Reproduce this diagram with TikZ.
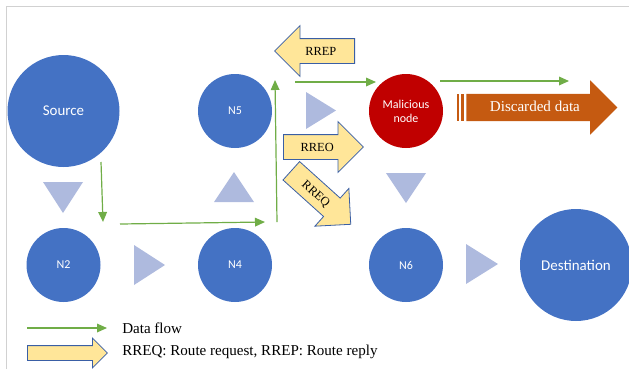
\documentclass[tikz,border=0pt]{standalone}
\usepackage{fontspec}
\setmainfont{Liberation Serif}
\newfontfamily\calibri{Carlito}
\usepackage{tikz}
\usetikzlibrary{positioning,shapes.arrows,arrows.meta}
\definecolor{nodeblue}{RGB}{68,114,196}
\definecolor{hintblue}{RGB}{174,186,222}
\definecolor{malred}{RGB}{192,0,0}
\definecolor{droporange}{RGB}{197,90,17}
\definecolor{msgyellow}{RGB}{255,230,153}
\definecolor{msgedge}{RGB}{58,95,165}
\definecolor{flowgreen}{RGB}{112,173,71}
\begin{document}
\begin{tikzpicture}[x=0.75pt,y=0.75pt]
\tikzstyle{every node}+=[inner sep=0pt]
\tikzstyle{host}=[circle,fill=nodeblue,text=white,minimum size=55.5pt,font=\calibri\fontsize{9}{10.5}\selectfont]
\tikzstyle{bighost}=[host,minimum size=84pt,font=\calibri\fontsize{11.2}{13}\selectfont]
\tikzstyle{hint}=[fill=hintblue]
\tikzstyle{flow}=[draw=flowgreen,line width=0.9pt,-{Triangle[length=7.5pt,width=6.5pt,fill=flowgreen]}]
\tikzstyle{msg}=[single arrow,anchor=tail,draw=msgedge,fill=msgyellow,line width=0.6pt,minimum height=60pt,text height=6.5pt,text depth=0pt,inner ysep=5.75pt,single arrow head extend=9.75pt,font=\fontsize{9.3}{11}\selectfont]
\tikzstyle{legend}=[anchor=west,font=\fontsize{11.3}{13}\selectfont]
\useasboundingbox (0,0) rectangle (629,-369);
\draw [black!18] (6,-369) -- (6,-6) -- (629,-6);
\node [bighost] (src) at (63.5,-111) {Source};
\node [host] (n2) at (63.5,-265) {N2};
\node [host] (n4) at (235,-265) {N4};
\node [host] (n5) at (235,-111) {N5};
\node [host,fill=malred,align=center] (mal) at (406,-111) {Malicious\\node};
\node [host] (n6) at (406,-265) {N6};
\node [bighost] (dst) at (576,-265) {Destination};
\fill [hint] (43,-182) -- (83,-182) -- (63,-213) -- cycle;
\fill [hint] (134,-245) -- (134,-285) -- (165,-265) -- cycle;
\fill [hint] (214,-202) -- (254,-202) -- (234,-172) -- cycle;
\fill [hint] (306,-92) -- (306,-129) -- (336,-110.5) -- cycle;
\fill [hint] (386,-173) -- (426,-173) -- (406,-203) -- cycle;
\fill [hint] (466,-244) -- (466,-284) -- (498,-264) -- cycle;
\coordinate (a1) at (101,-162);
\coordinate (a2) at (103,-222);
\coordinate (b1) at (120,-224);
\coordinate (b2) at (265,-222);
\coordinate (c1) at (277,-222);
\coordinate (c2) at (275,-80);
\coordinate (d1) at (295,-82);
\coordinate (d2) at (376,-82);
\coordinate (e1) at (440,-81);
\coordinate (e2) at (569,-81);
\draw [flow] (a1) -- (a2);
\draw [flow] (b1) -- (b2);
\draw [flow] (c1) -- (c2);
\draw [flow] (d1) -- (d2);
\draw [flow] (e1) -- (e2);
\node [msg,shape border rotate=180] (rrep) at (355,-51) {RREP};
\node [msg] (rreo) at (283,-147) {RREO};
\node [msg,rotate=-42] (rreq) at (291,-170.5) {RREQ};
\fill [droporange] (457,-94) rectangle (459,-121);
\fill [droporange] (461,-94) rectangle (464,-121);
\node [single arrow,anchor=tail,fill=droporange,text=white,minimum height=113.25pt,text height=8pt,text depth=2pt,inner ysep=5.1pt,single arrow head extend=10.1pt,font=\fontsize{11.3}{13}\selectfont] (drop) at (466,-107.5) {Discarded data};
\coordinate (l1) at (27,-328);
\coordinate (l2) at (107,-328);
\draw [flow] (l1) -- (l2);
\node [legend] (flowtxt) at (122,-328) {Data flow};
\node [msg,text height=0pt,inner ysep=5.25pt,single arrow head extend=5.6pt] (legmsg) at (27,-353) {};
\node [legend] (msgtxt) at (122,-352) {RREQ: Route request, RREP: Route reply};
\end{tikzpicture}
\end{document}
